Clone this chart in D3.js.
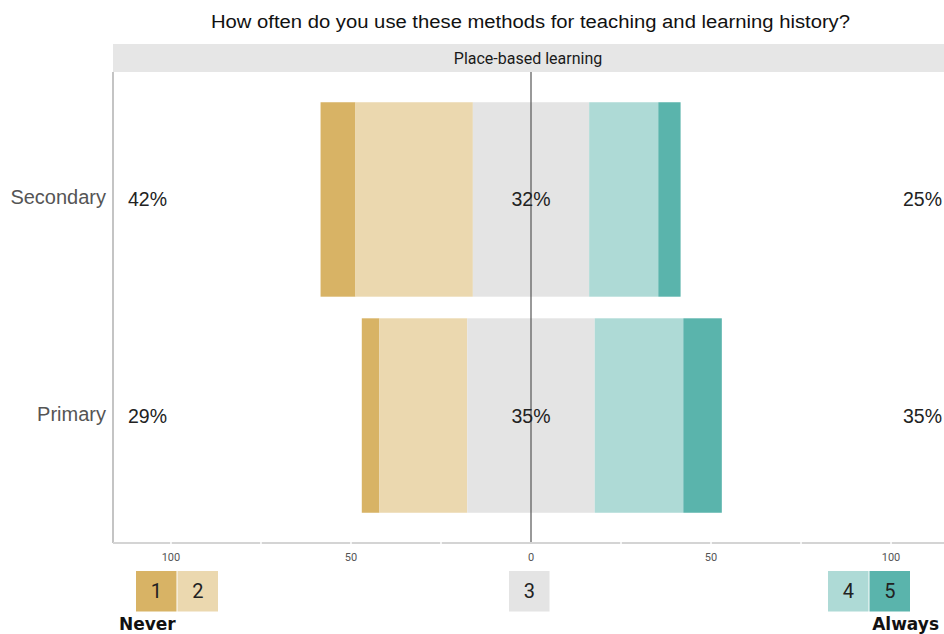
<!DOCTYPE html>
<html>
<head>
<meta charset="utf-8">
<script src="https://cdn.jsdelivr.net/npm/d3@7"></script>
<style>
  html, body { margin: 0; padding: 0; background: #fff; }
  svg { display: block; }
</style>
</head>
<body>
<svg id="chart" width="944" height="634"></svg>
<script>
// ---- data ----
const title = "How often do you use these methods for teaching and learning history?";
const panelTitle = "Place-based learning";
const groups = ["Secondary", "Primary"];
const levels = ["1", "2", "3", "4", "5"];
const secondaryValues = [9.7, 32.6, 32.3, 19.2, 6.2];
const primaryValues = [4.9, 24.4, 35.4, 24.6, 10.7];
const lowLabels = ["42%", "29%"];
const midLabels = ["32%", "35%"];
const highLabels = ["25%", "35%"];
const tickValues = [-100, -50, 0, 50, 100];
const tickLabels = ["100", "50", "0", "50", "100"];
const levelColors = ["#d8b365", "#ebd8af", "#e4e4e4", "#aedad6", "#5ab4ac"];
const legendEnds = ["Never", "Always"];

const valuesByGroup = { Secondary: secondaryValues, Primary: primaryValues };

// ---- layout ----
const svg = d3.select("#chart");
const panel = { left: 113, right: 949, top: 72, bottom: 543 };

const x = d3.scaleLinear().domain([-116.1, 116.1]).range([panel.left, panel.right]);
const y = d3.scaleBand().domain(groups).range([panel.top, panel.bottom])
  .paddingInner(0.1).paddingOuter(0.14);
const color = d3.scaleOrdinal().domain(levels).range(levelColors);

// title
svg.append("text")
  .attr("x", 211).attr("y", 28)
  .attr("font-family", "Liberation Sans, Arial, sans-serif")
  .attr("font-size", 18)
  .attr("textLength", 639).attr("lengthAdjust", "spacingAndGlyphs")
  .attr("fill", "#111")
  .text(title);

// strip
svg.append("rect")
  .attr("x", panel.left).attr("y", 44)
  .attr("width", panel.right - panel.left).attr("height", panel.top - 44)
  .attr("fill", "#e6e6e6");
svg.append("text")
  .attr("x", 528).attr("y", 64)
  .attr("text-anchor", "middle")
  .attr("font-family", "Liberation Sans Narrow, Roboto, sans-serif")
  .attr("font-size", 16)
  .attr("fill", "#1a1a1a")
  .text(panelTitle);

// bars
const segs = [];
groups.forEach(g => {
  const v = valuesByGroup[g];
  let start = -(v[0] + v[1] + v[2] / 2);
  v.forEach((val, i) => {
    segs.push({ group: g, level: levels[i], x0: start, x1: start + val });
    start += val;
  });
});
svg.append("g").selectAll("rect").data(segs).join("rect")
  .attr("x", d => x(d.x0))
  .attr("width", d => x(d.x1) - x(d.x0))
  .attr("y", d => y(d.group))
  .attr("height", y.bandwidth())
  .attr("fill", d => color(d.level));

// center line
svg.append("line")
  .attr("x1", x(0)).attr("x2", x(0))
  .attr("y1", panel.top).attr("y2", panel.bottom)
  .attr("stroke", "#555").attr("stroke-width", 1.2);

// left axis line
svg.append("line")
  .attr("x1", panel.left).attr("x2", panel.left)
  .attr("y1", panel.top).attr("y2", panel.bottom)
  .attr("stroke", "#c4c4c4").attr("stroke-width", 2);
// bottom axis line
svg.append("line")
  .attr("x1", panel.left).attr("x2", panel.right)
  .attr("y1", panel.bottom).attr("y2", panel.bottom)
  .attr("stroke", "#d4d4d4").attr("stroke-width", 2);
// white breaks in bottom axis line
svg.append("g").selectAll("line").data(d3.range(-100, 101, 25).filter(t => t !== 0)).join("line")
  .attr("x1", d => x(d)).attr("x2", d => x(d))
  .attr("y1", panel.bottom - 1.5).attr("y2", panel.bottom + 1.5)
  .attr("stroke", "#fff").attr("stroke-width", 1.5);

// y labels
svg.append("g").selectAll("text").data(groups).join("text")
  .attr("x", 106)
  .attr("y", d => y(d) + y.bandwidth() / 2 + 5)
  .attr("text-anchor", "end")
  .attr("font-family", "Liberation Sans, Arial, sans-serif")
  .attr("font-size", 20)
  .attr("fill", "#555")
  .text(d => d);

// x tick labels
svg.append("g").selectAll("text").data(tickValues).join("text")
  .attr("x", d => x(d))
  .attr("y", 561)
  .attr("text-anchor", "middle")
  .attr("font-family", "Liberation Sans Narrow, Roboto, sans-serif")
  .attr("font-size", 11)
  .attr("fill", "#555")
  .text((d, i) => tickLabels[i]);

// percentage labels
const pctFont = "Liberation Sans, Arial, sans-serif";
groups.forEach((g, i) => {
  const cy = y(g) + y.bandwidth() / 2 + 7;
  svg.append("text").attr("x", 128).attr("y", cy)
    .attr("font-family", pctFont).attr("font-size", 19.5).attr("fill", "#222")
    .text(lowLabels[i]);
  svg.append("text").attr("x", x(0)).attr("y", cy).attr("text-anchor", "middle")
    .attr("font-family", pctFont).attr("font-size", 19.5).attr("fill", "#222")
    .text(midLabels[i]);
  svg.append("text").attr("x", 942).attr("y", cy).attr("text-anchor", "end")
    .attr("font-family", pctFont).attr("font-size", 19.5).attr("fill", "#222")
    .text(highLabels[i]);
});

// legend
const legendX = d3.scaleOrdinal().domain(levels).range([136, 177.5, 509, 828, 869.5]);
const lg = svg.append("g");
lg.selectAll("rect").data(levels).join("rect")
  .attr("x", d => legendX(d)).attr("y", 571)
  .attr("width", 40.5).attr("height", 40.5)
  .attr("fill", d => color(d));
lg.selectAll("text").data(levels).join("text")
  .attr("x", d => legendX(d) + 20.25).attr("y", 598)
  .attr("text-anchor", "middle")
  .attr("font-family", "Liberation Sans Narrow, Roboto, sans-serif")
  .attr("font-size", 20)
  .attr("fill", "#222")
  .text(d => d);
svg.append("text").attr("x", 119).attr("y", 630)
  .attr("font-family", "DejaVu Sans, sans-serif").attr("font-weight", "bold")
  .attr("font-size", 17).attr("fill", "#111")
  .text(legendEnds[0]);
svg.append("text").attr("x", 939).attr("y", 630).attr("text-anchor", "end")
  .attr("font-family", "DejaVu Sans, sans-serif").attr("font-weight", "bold")
  .attr("font-size", 17).attr("fill", "#111")
  .text(legendEnds[1]);
</script>
</body>
</html>
